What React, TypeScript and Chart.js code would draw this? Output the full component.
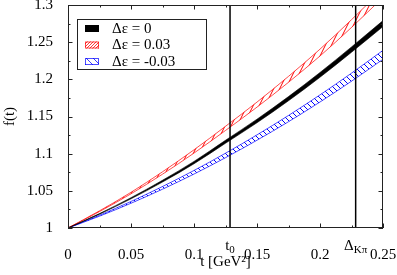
import { useEffect, useRef } from 'react';
import { Chart, registerables } from 'chart.js';

Chart.register(...registerables);

// momentum transfer t [GeV^2]
const T = [0, 0.025, 0.05, 0.075, 0.1, 0.125, 0.15, 0.175, 0.2, 0.225, 0.25];
// Δε = 0 (central band)
const F0 = [1, 1.019, 1.04, 1.063, 1.088, 1.116, 1.144, 1.174, 1.206, 1.24, 1.275];
const F0_ERR = [0, 0.0004, 0.0008, 0.0012, 0.0016, 0.002, 0.0024, 0.0028, 0.0032, 0.0036, 0.004];
// Δε = 0.03
const FP = [1, 1.0226, 1.047, 1.074, 1.103, 1.134, 1.166, 1.2, 1.236, 1.275, 1.316];
const FP_ERR = [0, 0.0005, 0.001, 0.0016, 0.0022, 0.0028, 0.0034, 0.004, 0.0046, 0.0052, 0.0058];
// Δε = -0.03
const FM = [1, 1.0165, 1.0345, 1.054, 1.075, 1.0976, 1.1217, 1.1472, 1.1743, 1.2029, 1.233];
const FM_ERR = [0, 0.0006, 0.0012, 0.0018, 0.0024, 0.003, 0.0036, 0.0042, 0.0048, 0.0054, 0.006];

const LABELS = ['Δε = 0', 'Δε = 0.03', 'Δε = -0.03'];

const X_TICKS = [0, 0.05, 0.1, 0.15, 0.2, 0.25];
const X_TICK_LABELS = ['0', '0.05', '0.1', '0.15', '0.2', '0.25'];
const Y_TICKS = [1, 1.05, 1.1, 1.15, 1.2, 1.25, 1.3];
const Y_TICK_LABELS = ['1', '1.05', '1.1', '1.15', '1.2', '1.25', '1.3'];

const T0 = 0.1286;
const DELTA_KPI = 0.2283;
const MARKERS = [
  { value: T0, main: 't', sub: '0' },
  { value: DELTA_KPI, main: 'Δ', sub: 'Kπ' },
];

const FONT = "'Liberation Serif', 'DejaVu Serif', serif";

// hatch tiles: w x h with one line across the tile diagonal
function makePattern(color: string, w: number, h: number, rising: boolean): CanvasPattern | string {
  const c = document.createElement('canvas');
  c.width = w;
  c.height = h;
  const g = c.getContext('2d');
  if (!g) return color;
  g.strokeStyle = color;
  g.lineWidth = 1;
  g.beginPath();
  for (let k = -1; k <= 1; k++) {
    if (rising) {
      g.moveTo(k * w, h);
      g.lineTo(k * w + w, 0);
    } else {
      g.moveTo(k * w, 0);
      g.lineTo(k * w + w, h);
    }
  }
  g.stroke();
  const p = g.createPattern(c, 'repeat');
  return p || color;
}

export default function App() {
  const ref = useRef<HTMLCanvasElement | null>(null);

  useEffect(() => {
    document.body.style.margin = '0';
    document.body.style.overflow = 'hidden';
    const canvas = ref.current;
    if (!canvas) return;

    const redPat = makePattern('rgb(255,0,0)', 6, 12, true);
    const bluePat = makePattern('rgb(0,0,255)', 6, 6, false);
    const redLegPat = makePattern('rgb(255,60,60)', 3, 3, true);
    const blueLegPat = makePattern('rgb(60,60,255)', 7, 7, false);

    const band = (f: number[], e: number[], sign: number) =>
      T.map((t, i) => ({ x: t, y: f[i] + sign * e[i] }));

    const series = [
      { f: F0, e: F0_ERR, fill: '#000' as any, leg: '#000' as any, border: '#000', bw: 0.6 },
      { f: FP, e: FP_ERR, fill: redPat, leg: redLegPat, border: 'rgba(255,0,0,0.7)', bw: 1 },
      { f: FM, e: FM_ERR, fill: bluePat, leg: blueLegPat, border: 'rgba(0,0,255,0.7)', bw: 1 },
    ];

    const datasets: any[] = [];
    series.forEach((s, i) => {
      datasets.push({
        label: LABELS[i],
        data: band(s.f, s.e, 1),
        borderColor: s.border,
        borderWidth: s.bw,
        backgroundColor: s.fill,
        fill: { target: '+1', above: s.fill, below: s.fill },
        pointRadius: 0,
        cubicInterpolationMode: 'monotone',
      });
      datasets.push({
        label: LABELS[i] + ' lower',
        data: band(s.f, s.e, -1),
        borderColor: s.border,
        borderWidth: s.bw,
        backgroundColor: s.fill,
        fill: false,
        pointRadius: 0,
        cubicInterpolationMode: 'monotone',
      });
    });

    const decor = {
      id: 'decor',
      afterDatasetsDraw(chart: any) {
        const ctx = chart.ctx;
        const xs = chart.scales.x;
        const { top, bottom } = chart.chartArea;
        ctx.save();
        ctx.strokeStyle = '#000';
        ctx.lineWidth = 1.5;
        MARKERS.forEach((m) => {
          const px = xs.getPixelForValue(m.value);
          ctx.beginPath();
          ctx.moveTo(px, top);
          ctx.lineTo(px, bottom);
          ctx.stroke();
        });
        ctx.restore();
      },
      afterDraw(chart: any) {
        const ctx = chart.ctx;
        const xs = chart.scales.x;
        const ys = chart.scales.y;
        const { left, right, top, bottom } = chart.chartArea;
        ctx.save();
        // frame
        ctx.strokeStyle = '#222';
        ctx.lineWidth = 1;
        ctx.strokeRect(left + 0.5, top + 0.5, right - left - 1, bottom - top - 1);
        const MAJ = 4.5;
        const MIN = 2.5;
        const xv = xs.ticks.map((t: any) => t.value);
        const yv = ys.ticks.map((t: any) => t.value);
        ctx.beginPath();
        const xTick = (v: number, len: number) => {
          const px = Math.round(xs.getPixelForValue(v)) + 0.5;
          ctx.moveTo(px, bottom);
          ctx.lineTo(px, bottom - len);
          ctx.moveTo(px, top);
          ctx.lineTo(px, top + len);
        };
        const yTick = (v: number, len: number) => {
          const py = Math.round(ys.getPixelForValue(v)) + 0.5;
          ctx.moveTo(left, py);
          ctx.lineTo(left + len, py);
          ctx.moveTo(right, py);
          ctx.lineTo(right - len, py);
        };
        xv.forEach((v: number, i: number) => {
          xTick(v, MAJ);
          if (i < xv.length - 1) xTick((v + xv[i + 1]) / 2, MIN);
        });
        yv.forEach((v: number, i: number) => {
          yTick(v, MAJ);
          if (i < yv.length - 1) yTick((v + yv[i + 1]) / 2, MIN);
        });
        ctx.stroke();

        // marker labels (t0, Δ_Kπ)
        ctx.fillStyle = '#000';
        ctx.textBaseline = 'alphabetic';
        MARKERS.forEach((m) => {
          const px = xs.getPixelForValue(m.value);
          ctx.font = `15px ${FONT}`;
          const wMain = ctx.measureText(m.main).width;
          ctx.font = `11px ${FONT}`;
          const wSub = ctx.measureText(m.sub).width;
          const x0 = px - (wMain + wSub) / 2;
          ctx.font = `15px ${FONT}`;
          ctx.textAlign = 'left';
          ctx.fillText(m.main, x0, 250);
          ctx.font = `11px ${FONT}`;
          ctx.fillText(m.sub, x0 + wMain, 253);
        });

        // legend
        const lx = 77.5, ly = 19.5, lw = 129, lh = 50;
        ctx.fillStyle = '#fff';
        ctx.fillRect(lx, ly, lw, lh);
        ctx.strokeStyle = '#222';
        ctx.lineWidth = 1;
        ctx.strokeRect(lx, ly, lw, lh);
        const rows = [28.5, 45, 61.5];
        series.forEach((s, i) => {
          const cy = rows[i];
          ctx.fillStyle = s.leg;
          ctx.fillRect(85, cy - 3.5, 14, 7);
          if (i > 0) {
            ctx.strokeStyle = s.border;
            ctx.strokeRect(85.5, cy - 3, 13, 6);
          }
          ctx.fillStyle = '#000';
          ctx.font = `15px ${FONT}`;
          ctx.textAlign = 'left';
          ctx.textBaseline = 'middle';
          ctx.fillText(LABELS[i], 112, cy + 0.5);
        });
        ctx.restore();
      },
    };

    const chart = new Chart(canvas, {
      type: 'line',
      data: { datasets },
      plugins: [decor],
      options: {
        animation: false,
        responsive: false,
        maintainAspectRatio: false,
        layout: { padding: { top: 5, right: 14, left: 0, bottom: 0 } },
        plugins: {
          legend: { display: false },
          tooltip: { enabled: false },
        },
        scales: {
          x: {
            type: 'linear',
            min: 0,
            max: 0.25,
            grid: { display: false },
            border: { display: false },
            afterBuildTicks: (scale: any) => {
              scale.ticks = X_TICKS.map((v) => ({ value: v }));
            },
            afterFit: (scale: any) => {
              scale.height = 47;
              scale.paddingLeft = 0;
              scale.paddingRight = 0;
            },
            ticks: {
              autoSkip: false,
              maxRotation: 0,
              padding: 10,
              color: '#000',
              font: { family: FONT, size: 15 },
              callback: (v: any) => {
                const i = X_TICKS.findIndex((t) => Math.abs(t - v) < 1e-9);
                return i >= 0 ? X_TICK_LABELS[i] : '';
              },
            },
            title: {
              display: true,
              text: 't [GeV²]',
              color: '#000',
              font: { family: FONT, size: 15 },
              padding: { top: 0, bottom: 4 },
            },
          },
          y: {
            type: 'linear',
            min: 1,
            max: 1.3,
            grid: { display: false },
            border: { display: false },
            afterBuildTicks: (scale: any) => {
              scale.ticks = Y_TICKS.map((v) => ({ value: v }));
            },
            afterFit: (scale: any) => {
              scale.width = 68;
              scale.paddingTop = 0;
              scale.paddingBottom = 0;
            },
            ticks: {
              autoSkip: false,
              padding: 7,
              color: '#000',
              font: { family: FONT, size: 15 },
              callback: (v: any) => {
                const i = Y_TICKS.findIndex((t) => Math.abs(t - v) < 1e-9);
                return i >= 0 ? Y_TICK_LABELS[i] : '';
              },
            },
            title: {
              display: true,
              text: 'f(t)',
              color: '#000',
              font: { family: FONT, size: 15 },
              padding: { top: 1, bottom: 0 },
            },
          },
        },
      },
    });

    return () => chart.destroy();
  }, []);

  return (
    <div style={{ width: 397, height: 275, background: '#fff' }}>
      <canvas ref={ref} width={397} height={275} style={{ display: 'block' }} />
    </div>
  );
}
